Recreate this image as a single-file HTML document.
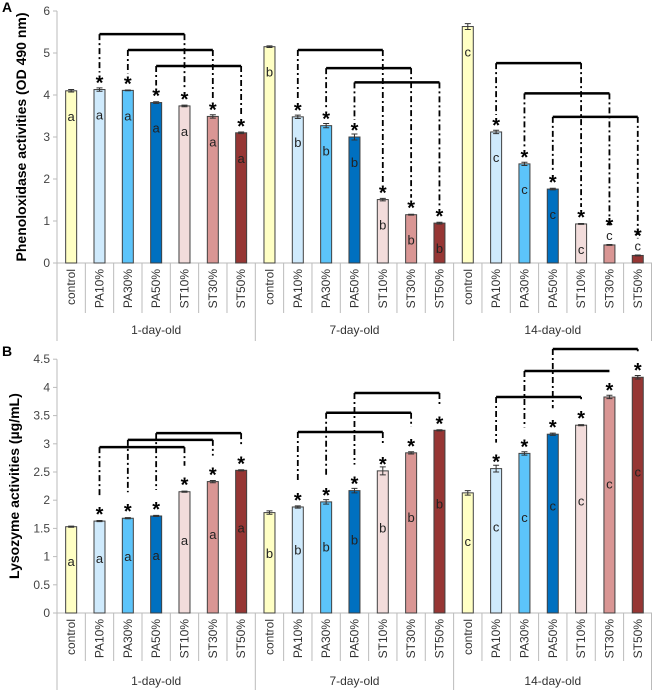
<!DOCTYPE html>
<html><head><meta charset="utf-8"><style>
html,body{margin:0;padding:0;background:#fff;}
svg{display:block;font-family:"Liberation Sans",sans-serif;}
</style></head><body>
<svg id="c" width="652" height="690"></svg>
<script>
const categories=["control","PA10%","PA30%","PA50%","ST10%","ST30%","ST50%"];
const groups=["1-day-old","7-day-old","14-day-old"];
const groupLetters=["a","b","c"];
const colors=["#ffffc4","#cfeafc","#5cc4fa","#0070c0","#f2dcdb","#d99694","#963634"];
const poValues=[[4.10,4.13,4.11,3.82,3.74,3.49,3.10],[5.15,3.48,3.27,3.00,1.51,1.15,0.95],[5.63,3.12,2.36,1.76,0.93,0.43,0.18]];
const poErrors=[[0.03,0.04,0.01,0.02,0.02,0.04,0.02],[0.02,0.04,0.05,0.07,0.03,0.01,0.02],[0.07,0.04,0.04,0.02,0.01,0.01,0.01]];
const lyValues=[[1.53,1.63,1.68,1.72,2.15,2.33,2.53],[1.78,1.88,1.97,2.17,2.52,2.84,3.24],[2.13,2.56,2.83,3.17,3.33,3.83,4.18]];
const lyErrors=[[0.01,0.01,0.01,0.01,0.01,0.02,0.01],[0.03,0.02,0.04,0.04,0.07,0.02,0.01],[0.04,0.06,0.03,0.02,0.01,0.03,0.03]];
const poTicks=[0,1,2,3,4,5,6];
const lyTicks=[0,0.5,1,1.5,2,2.5,3,3.5,4,4.5];
const poBrackets=[[5.45,5.07,4.69],[5.07,4.64,4.30],[4.76,4.04,3.48]];
const lyBrackets=[[2.94,3.07,3.19],[3.21,3.55,3.90],[3.83,4.29,4.68]];
const NS="http://www.w3.org/2000/svg";
const svg=document.getElementById('c');
function mk(t,a,p){const e=document.createElementNS(NS,t);for(const k in a)e.setAttribute(k,a[k]);(p||svg).appendChild(e);return e;}
function chart(o){
  const g=mk('g',{});
  
  
  const x0=57,slot=28.33,y0=o.y0,ppu=o.ppu;
  const y=v=>y0-v*ppu;
  const xc=i=>x0+slot*(i+0.5);
  const pl=mk('text',{x:2,y:o.panelY,'font-size':14,'font-weight':'bold'},g);pl.textContent=o.panel;
  
  
  mk('line',{x1:x0,y1:y(o.ticks[o.ticks.length-1]),x2:x0,y2:y0,stroke:'#bbb'},g);
  o.ticks.forEach(t=>{
    mk('line',{x1:x0-4,y1:y(t),x2:x0,y2:y(t),stroke:'#bbb'},g);
    const tt=mk('text',{x:x0-7,y:y(t)+4,'font-size':12,'text-anchor':'end',fill:'#444'},g);tt.textContent=t;
    
    
  });
  const yt=mk('text',{transform:`translate(${o.titleX},${(y0+y(o.ticks[o.ticks.length-1]))/2}) rotate(-90)`,'font-size':14,'font-weight':'bold','text-anchor':'middle'},g);
  yt.textContent=o.title;
  
  
  mk('line',{x1:x0,y1:y0,x2:652,y2:y0,stroke:'#bbb'},g);
  for(let gi=0;gi<3;gi++){
    for(let ci=0;ci<7;ci++){
      const i=gi*7+ci;
      const sx=x0+slot*i;
      mk('line',{x1:sx,y1:y0,x2:sx,y2:y0+(ci==0?o.grpLineLen:o.catLineLen),stroke:'#bbb'},g);
      const cl=mk('text',{transform:`translate(${xc(i)+4},${y0+6}) rotate(-90)`,'font-size':12,'text-anchor':'end',fill:'#333'},g);
      cl.textContent=categories[ci];
      
      
      const v=o.values[gi][ci],e=o.errors[gi][ci];
      const top=y(v),h=y0-top;
      const b=mk('rect',{x:xc(i)-5.5,y:top,width:11,height:h,fill:colors[ci],stroke:'#404040','stroke-width':1},g);
      
      
      mk('path',{d:`M${xc(i)-3},${y(v+e)}H${xc(i)+3}M${xc(i)},${y(v+e)}V${y(v-e)}M${xc(i)-3},${y(v-e)}H${xc(i)+3}`,stroke:'#333','stroke-width':1,fill:'none'},g);
      let ly=o.letterY(top,h);
      if(h<22) ly=top-5;
      const lt=mk('text',{x:xc(i),y:ly,'font-size':13,'text-anchor':'middle',fill:'#222'},g);
      lt.textContent=groupLetters[gi];
      
      
      if(ci>0){
        const st=mk('text',{x:xc(i),y:top-(h<22?13:0),'font-size':20,'font-weight':'bold','text-anchor':'middle'},g);
        st.textContent='*';
        
        
      }
    }
    const gl=mk('text',{x:x0+slot*(gi*7+3.5),y:o.grpLabelY,'font-size':12,'text-anchor':'middle',fill:'#333'},g);
    gl.textContent=groups[gi];
    
    
    for(let k=0;k<3;k++){
      const a=gi*7+1+k,bb=gi*7+4+k;
      const by=y(o.brackets[gi][k]);
      const ta=y(o.values[gi][1+k])-o.legGap,tb=y(o.values[gi][4+k])-o.legGap;
      mk('line',{x1:xc(a),y1:by,x2:xc(bb),y2:by,stroke:'#000','stroke-width':2.5},g);
      mk('line',{x1:xc(a),y1:by,x2:xc(a),y2:ta,stroke:'#000','stroke-width':1.8,'stroke-dasharray':'6,3,2,3'},g);
      mk('line',{x1:xc(bb),y1:by,x2:xc(bb),y2:tb,stroke:'#000','stroke-width':1.8,'stroke-dasharray':'6,3,2,3'},g);
    }
  }
  mk('line',{x1:651.5,y1:y0,x2:651.5,y2:y0+o.grpLineLen,stroke:'#bbb'},g);
}
chart({name:'phenoloxidase-chart',panel:'A',panelY:12,y0:263,ppu:42,ticks:poTicks,title:'Phenoloxidase  activities (OD 490 nm)',titleX:26,
  values:poValues,errors:poErrors,brackets:poBrackets,legGap:17,catLineLen:50,grpLineLen:78,grpLabelY:334,letterY:(t,h)=>t+30});
chart({name:'lysozyme-chart',panel:'B',panelY:356,y0:613,ppu:56.4,ticks:lyTicks,title:'Lysozyme activities (µg/mL)',titleX:19,
  values:lyValues,errors:lyErrors,brackets:lyBrackets,legGap:26,catLineLen:48,grpLineLen:77,grpLabelY:685,letterY:(t,h)=>t+h*0.4+5});
</script>
</body></html>
